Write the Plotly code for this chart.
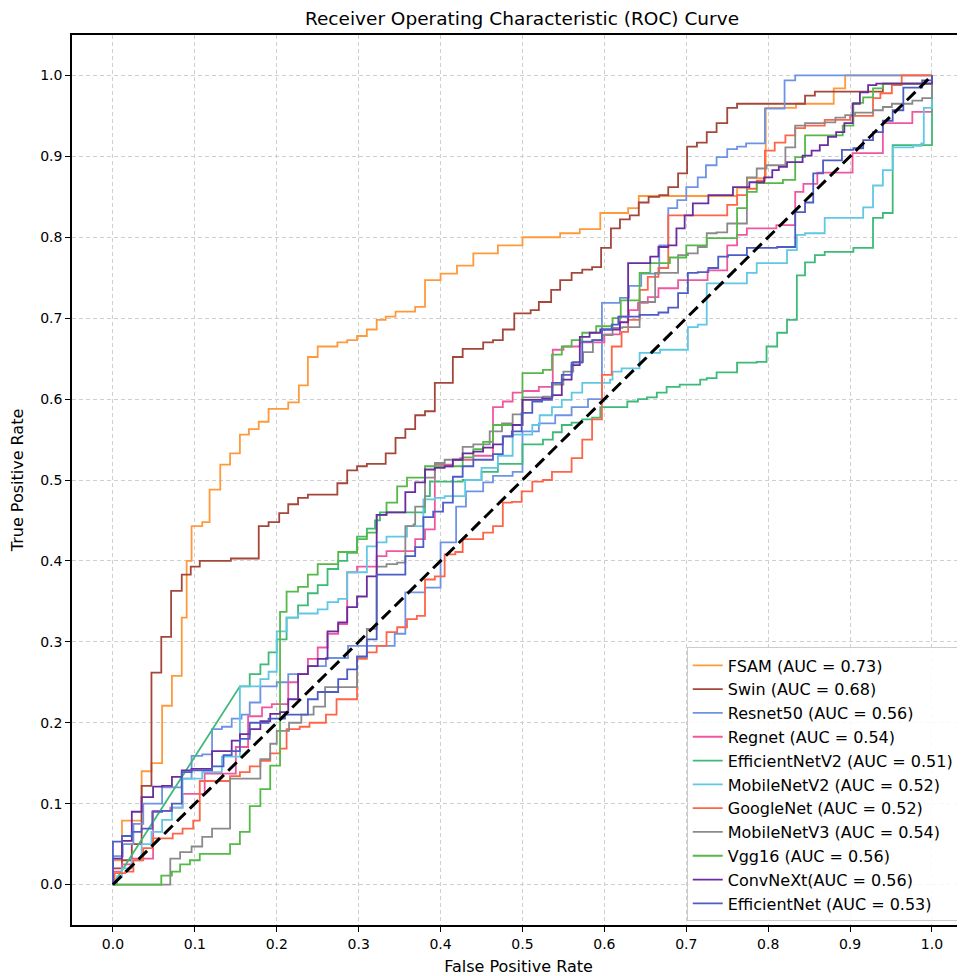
import plotly.graph_objects as go

# ROC curve vertices (FPR, TPR)
fsam_roc = [(0,0),(0,0.03),(0.011,0.079),(0.035,0.14),(0.047,0.15),(0.06,0.221),(0.072,0.258),(0.084,0.33),(0.09,0.40),(0.096,0.443),(0.109,0.448),(0.118,0.488),(0.131,0.519),(0.143,0.533),(0.155,0.556),(0.166,0.563),(0.178,0.572),(0.19,0.588),(0.214,0.596),(0.227,0.617),(0.238,0.652),(0.25,0.665),(0.274,0.67),(0.286,0.673),(0.298,0.678),(0.31,0.686),(0.322,0.698),(0.333,0.702),(0.345,0.708),(0.369,0.714),(0.381,0.747),(0.40,0.755),(0.42,0.765),(0.44,0.78),(0.47,0.79),(0.5,0.80),(0.546,0.805),(0.57,0.81),(0.595,0.83),(0.629,0.836),(0.642,0.851),(0.762,0.861),(0.774,0.873),(0.797,0.96),(0.834,0.965),(0.88,0.984),(0.894,1.0),(1.0,1.0)]

swin_roc = [(0,0),(0,0.02),(0.011,0.03),(0.023,0.05),(0.035,0.122),(0.047,0.262),(0.059,0.306),(0.071,0.363),(0.084,0.383),(0.095,0.393),(0.106,0.40),(0.144,0.403),(0.178,0.443),(0.19,0.448),(0.203,0.459),(0.214,0.47),(0.226,0.478),(0.238,0.482),(0.274,0.496),(0.286,0.512),(0.298,0.517),(0.31,0.52),(0.333,0.533),(0.345,0.552),(0.357,0.563),(0.369,0.58),(0.381,0.585),(0.393,0.62),(0.415,0.652),(0.427,0.662),(0.452,0.67),(0.464,0.673),(0.476,0.686),(0.49,0.706),(0.51,0.71),(0.52,0.72),(0.535,0.735),(0.546,0.747),(0.56,0.756),(0.573,0.76),(0.585,0.763),(0.596,0.787),(0.608,0.811),(0.619,0.822),(0.631,0.827),(0.642,0.843),(0.654,0.85),(0.667,0.852),(0.678,0.862),(0.69,0.879),(0.701,0.912),(0.713,0.917),(0.725,0.93),(0.737,0.941),(0.75,0.96),(0.762,0.965),(0.845,0.975),(0.857,0.98),(0.94,0.99),(1.0,1.0)]

resnet50_roc = [(0,0),(0,0.035),(0.012,0.05),(0.025,0.075),(0.037,0.1),(0.06,0.12),(0.084,0.131),(0.096,0.159),(0.109,0.161),(0.121,0.192),(0.133,0.195),(0.145,0.205),(0.157,0.21),(0.167,0.225),(0.18,0.245),(0.2,0.25),(0.214,0.26),(0.238,0.27),(0.26,0.28),(0.287,0.295),(0.344,0.31),(0.357,0.361),(0.381,0.367),(0.4,0.423),(0.419,0.467),(0.431,0.486),(0.452,0.497),(0.464,0.505),(0.488,0.51),(0.5,0.56),(0.52,0.57),(0.54,0.58),(0.56,0.59),(0.58,0.6),(0.597,0.719),(0.619,0.725),(0.63,0.74),(0.645,0.755),(0.667,0.79),(0.678,0.836),(0.689,0.846),(0.70,0.862),(0.714,0.874),(0.724,0.889),(0.737,0.899),(0.75,0.909),(0.762,0.912),(0.773,0.916),(0.796,0.959),(0.82,0.994),(0.833,1.0),(1.0,1.0)]

regnet_roc = [(0,0),(0,0.016),(0.011,0.025),(0.023,0.032),(0.049,0.091),(0.07,0.095),(0.085,0.112),(0.112,0.137),(0.135,0.137),(0.15,0.17),(0.165,0.208),(0.182,0.219),(0.194,0.223),(0.214,0.25),(0.226,0.26),(0.238,0.279),(0.25,0.293),(0.262,0.31),(0.275,0.322),(0.286,0.386),(0.298,0.393),(0.322,0.406),(0.334,0.412),(0.366,0.412),(0.369,0.427),(0.381,0.439),(0.393,0.519),(0.415,0.525),(0.44,0.53),(0.464,0.59),(0.476,0.597),(0.488,0.608),(0.5,0.61),(0.52,0.615),(0.537,0.661),(0.55,0.665),(0.57,0.67),(0.6,0.68),(0.619,0.702),(0.63,0.71),(0.641,0.719),(0.653,0.726),(0.666,0.737),(0.69,0.747),(0.726,0.759),(0.75,0.79),(0.762,0.803),(0.774,0.811),(0.81,0.815),(0.833,0.856),(0.843,0.866),(0.86,0.88),(0.903,0.904),(0.94,0.941),(0.976,0.955),(1.0,1.0)]

# first segment of EfficientNetV2 is a straight (tied-score) diagonal
efficientnetv2_roc = [(0,0),(0.155,0.245),(0.167,0.26),(0.18,0.272),(0.19,0.287),(0.2,0.303),(0.212,0.33),(0.226,0.345),(0.238,0.36),(0.25,0.37),(0.262,0.39),(0.275,0.40),(0.286,0.41),(0.298,0.43),(0.31,0.44),(0.32,0.45),(0.326,0.46),(0.369,0.46),(0.381,0.48),(0.387,0.498),(0.427,0.5),(0.45,0.51),(0.47,0.52),(0.5,0.544),(0.525,0.55),(0.537,0.559),(0.548,0.568),(0.56,0.571),(0.573,0.575),(0.585,0.577),(0.595,0.59),(0.628,0.597),(0.641,0.6),(0.652,0.602),(0.664,0.608),(0.676,0.615),(0.692,0.618),(0.717,0.624),(0.725,0.626),(0.737,0.633),(0.762,0.645),(0.786,0.646),(0.798,0.665),(0.811,0.682),(0.823,0.698),(0.835,0.753),(0.845,0.769),(0.857,0.778),(0.869,0.782),(0.904,0.787),(0.928,0.824),(0.94,0.83),(0.952,0.914),(1.0,0.92),(1.0,1.0)]

mobilenetv2_roc = [(0,0),(0.005,0.01),(0.011,0.02),(0.023,0.03),(0.035,0.05),(0.047,0.065),(0.06,0.08),(0.072,0.095),(0.085,0.131),(0.109,0.139),(0.133,0.158),(0.155,0.245),(0.18,0.254),(0.19,0.263),(0.2,0.313),(0.212,0.33),(0.226,0.335),(0.25,0.34),(0.262,0.349),(0.275,0.353),(0.286,0.386),(0.31,0.418),(0.322,0.423),(0.334,0.43),(0.359,0.443),(0.379,0.476),(0.393,0.478),(0.405,0.48),(0.43,0.5),(0.45,0.515),(0.47,0.53),(0.488,0.556),(0.512,0.568),(0.521,0.58),(0.536,0.59),(0.548,0.599),(0.56,0.608),(0.573,0.62),(0.607,0.624),(0.61,0.634),(0.621,0.638),(0.643,0.657),(0.668,0.661),(0.702,0.689),(0.714,0.692),(0.725,0.743),(0.774,0.756),(0.786,0.768),(0.823,0.784),(0.835,0.803),(0.845,0.805),(0.869,0.824),(0.916,0.837),(0.928,0.864),(0.94,0.883),(0.952,0.911),(0.977,0.913),(0.987,0.916),(0.99,0.96),(1.0,1.0)]

googlenet_roc = [(0,0),(0.002,0.014),(0.015,0.016),(0.025,0.03),(0.037,0.045),(0.049,0.057),(0.073,0.063),(0.085,0.069),(0.098,0.079),(0.106,0.128),(0.143,0.134),(0.155,0.139),(0.167,0.146),(0.18,0.153),(0.192,0.162),(0.204,0.168),(0.212,0.192),(0.228,0.195),(0.24,0.2),(0.26,0.21),(0.273,0.229),(0.298,0.279),(0.31,0.287),(0.322,0.295),(0.334,0.312),(0.347,0.318),(0.359,0.328),(0.371,0.332),(0.381,0.377),(0.393,0.381),(0.405,0.408),(0.418,0.411),(0.427,0.427),(0.452,0.435),(0.464,0.443),(0.476,0.472),(0.487,0.473),(0.499,0.486),(0.512,0.498),(0.525,0.5),(0.536,0.51),(0.56,0.527),(0.573,0.55),(0.585,0.575),(0.597,0.63),(0.609,0.665),(0.621,0.683),(0.629,0.698),(0.643,0.735),(0.653,0.751),(0.666,0.762),(0.678,0.827),(0.75,0.84),(0.762,0.852),(0.774,0.86),(0.786,0.87),(0.796,0.907),(0.808,0.917),(0.821,0.926),(0.833,0.935),(0.845,0.938),(0.869,0.945),(0.9,0.95),(0.928,0.972),(0.937,0.978),(0.951,0.988),(0.963,1.0),(1.0,1.0)]

mobilenetv3_roc = [(0,0),(0.07,0.032),(0.082,0.04),(0.096,0.047),(0.109,0.059),(0.121,0.069),(0.143,0.131),(0.18,0.155),(0.192,0.174),(0.2,0.19),(0.215,0.2),(0.23,0.21),(0.245,0.22),(0.259,0.244),(0.298,0.281),(0.31,0.316),(0.322,0.393),(0.334,0.396),(0.347,0.398),(0.357,0.443),(0.367,0.445),(0.369,0.467),(0.381,0.503),(0.393,0.521),(0.405,0.525),(0.424,0.527),(0.427,0.541),(0.44,0.544),(0.46,0.56),(0.475,0.57),(0.488,0.581),(0.5,0.602),(0.525,0.603),(0.537,0.618),(0.55,0.634),(0.562,0.646),(0.574,0.658),(0.586,0.673),(0.598,0.679),(0.61,0.688),(0.622,0.689),(0.643,0.72),(0.662,0.756),(0.69,0.778),(0.702,0.78),(0.714,0.788),(0.725,0.805),(0.737,0.806),(0.75,0.817),(0.774,0.874),(0.786,0.885),(0.798,0.889),(0.821,0.911),(0.833,0.938),(0.845,0.941),(0.869,0.942),(0.882,0.948),(0.894,0.951),(0.906,0.954),(0.928,0.957),(0.94,0.961),(0.951,0.965),(0.976,0.969),(0.988,0.972),(1.0,1.0)]

vgg16_roc = [(0,0),(0.047,0.0),(0.059,0.011),(0.072,0.016),(0.082,0.025),(0.094,0.03),(0.106,0.038),(0.143,0.05),(0.155,0.065),(0.167,0.097),(0.18,0.118),(0.192,0.147),(0.204,0.337),(0.212,0.362),(0.226,0.368),(0.238,0.383),(0.25,0.396),(0.275,0.411),(0.298,0.427),(0.31,0.435),(0.322,0.457),(0.334,0.472),(0.347,0.492),(0.359,0.503),(0.381,0.517),(0.427,0.528),(0.44,0.538),(0.452,0.547),(0.464,0.568),(0.5,0.632),(0.525,0.636),(0.536,0.655),(0.548,0.665),(0.56,0.673),(0.573,0.682),(0.59,0.69),(0.61,0.70),(0.62,0.722),(0.643,0.756),(0.656,0.768),(0.68,0.775),(0.7,0.79),(0.725,0.799),(0.762,0.836),(0.774,0.856),(0.786,0.867),(0.818,0.871),(0.833,0.899),(0.845,0.926),(0.872,0.926),(0.891,0.938),(0.904,0.966),(0.916,0.973),(0.928,0.984),(0.94,0.99),(1.0,1.0)]

convnext_roc = [(0,0),(0,0.032),(0.011,0.054),(0.023,0.09),(0.035,0.108),(0.049,0.121),(0.06,0.122),(0.072,0.133),(0.084,0.141),(0.096,0.143),(0.121,0.165),(0.145,0.178),(0.155,0.186),(0.167,0.192),(0.18,0.202),(0.192,0.211),(0.204,0.213),(0.214,0.229),(0.226,0.26),(0.238,0.27),(0.25,0.279),(0.262,0.313),(0.275,0.324),(0.286,0.343),(0.298,0.356),(0.31,0.381),(0.322,0.457),(0.334,0.46),(0.357,0.485),(0.369,0.497),(0.381,0.513),(0.393,0.515),(0.405,0.517),(0.415,0.525),(0.427,0.533),(0.44,0.535),(0.452,0.54),(0.464,0.544),(0.476,0.554),(0.488,0.568),(0.5,0.599),(0.524,0.601),(0.536,0.605),(0.548,0.624),(0.56,0.642),(0.57,0.677),(0.582,0.682),(0.595,0.686),(0.619,0.695),(0.629,0.768),(0.656,0.776),(0.666,0.788),(0.678,0.79),(0.688,0.811),(0.698,0.827),(0.708,0.842),(0.727,0.852),(0.757,0.862),(0.777,0.868),(0.795,0.874),(0.805,0.883),(0.813,0.887),(0.823,0.893),(0.842,0.901),(0.853,0.907),(0.863,0.914),(0.873,0.924),(0.883,0.93),(0.893,0.941),(0.903,0.965),(0.912,0.979),(0.922,0.988),(0.932,0.99),(1.0,1.0)]

efficientnet_roc = [(0,0),(0,0.053),(0.011,0.06),(0.023,0.065),(0.035,0.069),(0.048,0.09),(0.06,0.091),(0.072,0.1),(0.084,0.139),(0.096,0.141),(0.121,0.146),(0.135,0.16),(0.145,0.165),(0.155,0.18),(0.167,0.2),(0.19,0.205),(0.21,0.21),(0.238,0.229),(0.25,0.238),(0.275,0.254),(0.286,0.266),(0.298,0.282),(0.31,0.303),(0.322,0.383),(0.357,0.406),(0.369,0.417),(0.379,0.454),(0.391,0.461),(0.403,0.472),(0.415,0.504),(0.427,0.517),(0.44,0.525),(0.464,0.532),(0.476,0.554),(0.487,0.56),(0.499,0.583),(0.512,0.597),(0.524,0.599),(0.536,0.62),(0.548,0.63),(0.56,0.645),(0.573,0.671),(0.585,0.673),(0.597,0.686),(0.609,0.692),(0.617,0.702),(0.643,0.704),(0.666,0.707),(0.678,0.713),(0.69,0.731),(0.702,0.756),(0.714,0.757),(0.727,0.762),(0.739,0.776),(0.751,0.778),(0.774,0.787),(0.811,0.788),(0.833,0.831),(0.845,0.843),(0.855,0.879),(0.867,0.895),(0.89,0.908),(0.904,0.91),(0.916,0.92),(0.928,0.93),(0.94,0.944),(0.952,0.957),(0.965,0.985),(0.988,0.994),(1.0,1.0)]

model_names = ["FSAM (AUC = 0.73)", "Swin (AUC = 0.68)", "Resnet50 (AUC = 0.56)", "Regnet (AUC = 0.54)",
               "EfficientNetV2 (AUC = 0.51)", "MobileNetV2 (AUC = 0.52)", "GoogleNet (AUC = 0.52)",
               "MobileNetV3 (AUC = 0.54)", "Vgg16 (AUC = 0.56)", "ConvNeXt(AUC = 0.56)", "EfficientNet (AUC = 0.53)"]
model_rocs = [fsam_roc, swin_roc, resnet50_roc, regnet_roc, efficientnetv2_roc, mobilenetv2_roc,
              googlenet_roc, mobilenetv3_roc, vgg16_roc, convnext_roc, efficientnet_roc]
model_colors = ['#ff9a3c', '#a4473a', '#6e93e4', '#f0579f', '#3dba78', '#60c8e4',
                '#ff6448', '#8a8a8a', '#55b947', '#6a2c9e', '#4d5dc6']
# number of leading points joined by straight segments (rest is a step curve)
straight_lead = [1, 1, 1, 1, 2, 1, 1, 1, 1, 1, 1]


def step_vertices(points, lead):
    xs = [p[0] for p in points[:lead]]
    ys = [p[1] for p in points[:lead]]
    for i in range(lead, len(points)):
        xs += [points[i][0], points[i][0]]
        ys += [points[i - 1][1], points[i][1]]
    return xs, ys


fig = go.Figure()
for name, roc, color, lead in zip(model_names, model_rocs, model_colors, straight_lead):
    xs, ys = step_vertices(roc, lead)
    fig.add_trace(go.Scatter(x=xs, y=ys, mode='lines', name=name,
                             line=dict(color=color, width=1.8)))

fig.add_trace(go.Scatter(x=[0, 1], y=[0, 1], mode='lines', showlegend=False,
                         line=dict(color='black', width=3, dash='12px,6px')))

axis_common = dict(tick0=0, dtick=0.1, tickformat='.1f', showgrid=True, gridcolor='#cfcfcf',
                   griddash='4px,3px', gridwidth=1, zeroline=False, showline=True,
                   linecolor='black', linewidth=1.5, ticks='outside', ticklen=5,
                   tickcolor='black', tickwidth=1.2, tickfont=dict(size=14))

fig.update_xaxes(range=[-0.05, 1.0403], mirror=True, automargin=False,
                 title=dict(text='False Positive Rate', font=dict(size=16), standoff=34),
                 **axis_common)
fig.update_yaxes(range=[-0.05, 1.05], mirror=False, automargin=False,
                 title=dict(text='True Positive Rate', font=dict(size=16), standoff=44),
                 **axis_common)

W, H = 957, 968
fig.update_layout(
    width=W, height=H,
    margin=dict(l=64, r=0, t=27, b=51),
    plot_bgcolor='white', paper_bgcolor='white',
    font=dict(family='DejaVu Sans', color='black', size=14),
    title=dict(text='Receiver Operating Characteristic (ROC) Curve', xref='container', x=514 / W,
               xanchor='center', yref='container', y=1 - 11 / H, yanchor='middle',
               font=dict(size=18.5)),
    legend=dict(x=0.993, xanchor='right', y=0.004, yanchor='bottom',
                bgcolor='rgba(255,255,255,0.85)', bordercolor='#cccccc', borderwidth=1,
                font=dict(size=16)),
)

fig.write_html("out.html")
